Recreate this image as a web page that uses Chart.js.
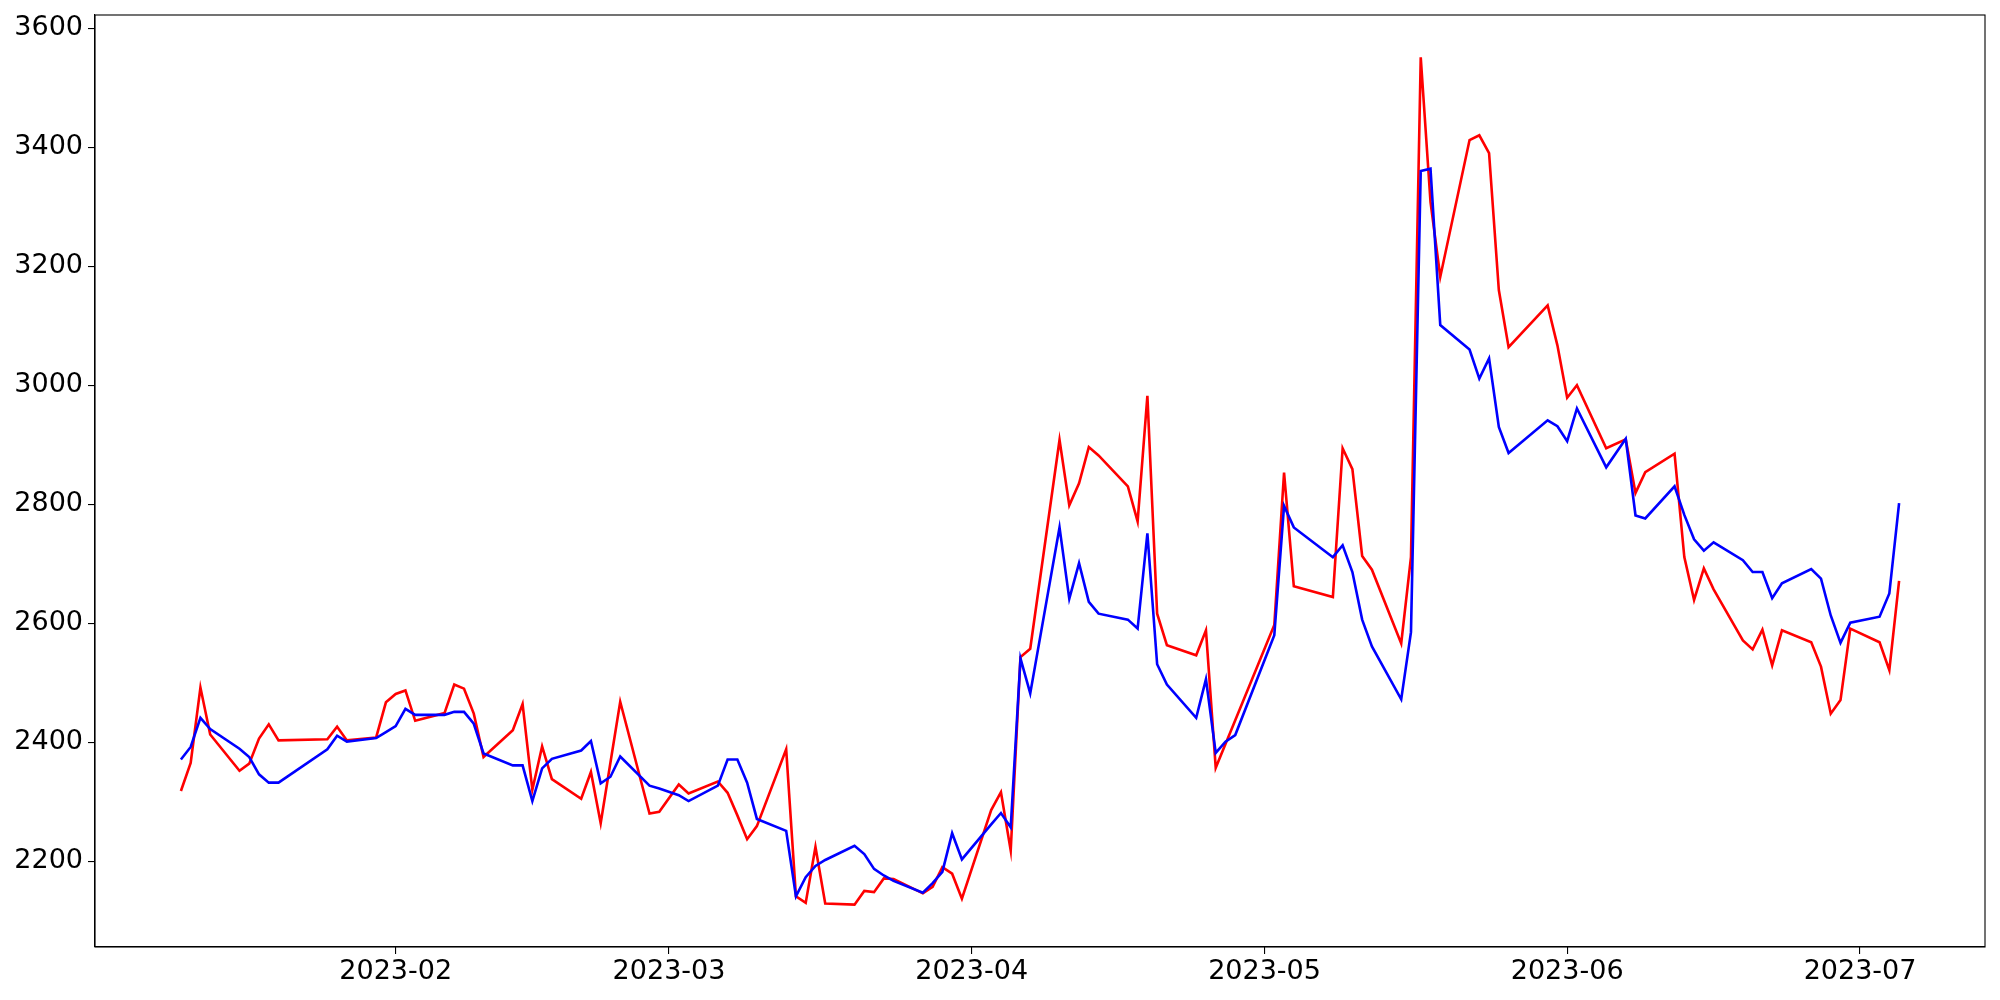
<!DOCTYPE html>
<html>
<head>
<meta charset="utf-8">
<script src="https://cdn.jsdelivr.net/npm/chart.js@4/dist/chart.umd.min.js"></script>
<style>
  body { margin: 0; background: #fff; }
  canvas { display: block; }
</style>
</head>
<body>
<canvas id="chart" width="2000" height="1000"></canvas>
<script>
// trading days
const dates = [
  '2023-01-10', '2023-01-11', '2023-01-12', '2023-01-13', '2023-01-16', '2023-01-17', '2023-01-18',
  '2023-01-19', '2023-01-20', '2023-01-25', '2023-01-26', '2023-01-27', '2023-01-30', '2023-01-31',
  '2023-02-01', '2023-02-02', '2023-02-03', '2023-02-06', '2023-02-07', '2023-02-08', '2023-02-09',
  '2023-02-10', '2023-02-13', '2023-02-14', '2023-02-15', '2023-02-16', '2023-02-17', '2023-02-20',
  '2023-02-21', '2023-02-22', '2023-02-23', '2023-02-24', '2023-02-27', '2023-02-28',
  '2023-03-02', '2023-03-03', '2023-03-06', '2023-03-07', '2023-03-08', '2023-03-09', '2023-03-10',
  '2023-03-13', '2023-03-14', '2023-03-15', '2023-03-16', '2023-03-17', '2023-03-20', '2023-03-21',
  '2023-03-22', '2023-03-23', '2023-03-24', '2023-03-27', '2023-03-28', '2023-03-29', '2023-03-30',
  '2023-03-31',
  '2023-04-03', '2023-04-04', '2023-04-05', '2023-04-06', '2023-04-07', '2023-04-10', '2023-04-11',
  '2023-04-12', '2023-04-13', '2023-04-14', '2023-04-17', '2023-04-18', '2023-04-19', '2023-04-20',
  '2023-04-21', '2023-04-24', '2023-04-25', '2023-04-26', '2023-04-27', '2023-04-28',
  '2023-05-02', '2023-05-03', '2023-05-04', '2023-05-08', '2023-05-09', '2023-05-10', '2023-05-11',
  '2023-05-12', '2023-05-15', '2023-05-16', '2023-05-17', '2023-05-18', '2023-05-19', '2023-05-22',
  '2023-05-23', '2023-05-24', '2023-05-25', '2023-05-26', '2023-05-30', '2023-05-31',
  '2023-06-01', '2023-06-02', '2023-06-05', '2023-06-07', '2023-06-08', '2023-06-09', '2023-06-12',
  '2023-06-13', '2023-06-14', '2023-06-15', '2023-06-16', '2023-06-19', '2023-06-20', '2023-06-21',
  '2023-06-22', '2023-06-23', '2023-06-26', '2023-06-27', '2023-06-28', '2023-06-29', '2023-06-30',
  '2023-07-03', '2023-07-04', '2023-07-05'
];

const redSeries = [
  2318, 2365, 2492, 2413, 2352, 2364, 2406, 2430, 2403, 2405, 2426, 2403, 2408, 2467,
  2481, 2487, 2436, 2449, 2497, 2490, 2448, 2375, 2420, 2464, 2320, 2393, 2338, 2305,
  2350, 2264, 2366, 2468, 2280, 2283,
  2329, 2314, 2334, 2315, 2277, 2237, 2259, 2388, 2141, 2130, 2224, 2129, 2127, 2150,
  2148, 2171, 2170, 2146, 2157, 2190, 2179, 2137,
  2286, 2316, 2218, 2543, 2557, 2908, 2798, 2835, 2896, 2882, 2830, 2771, 2982, 2616,
  2563, 2546, 2588, 2357, 2397, 2437,
  2597, 2853, 2662, 2644, 2894, 2859, 2713, 2690, 2566, 2711, 3551, 3308, 3182, 3412,
  3420, 3390, 3160, 3064, 3134, 3067,
  2979, 3000, 2894, 2909, 2819, 2854, 2885, 2711, 2639, 2692, 2657, 2571, 2556, 2589,
  2529, 2588, 2568, 2527, 2448, 2471, 2591,
  2568, 2521, 2671
];

const blueSeries = [
  2371, 2392, 2441, 2422, 2389, 2375, 2346, 2332, 2332, 2388, 2411, 2401, 2407, 2417,
  2427, 2456, 2446, 2446, 2451, 2451, 2431, 2381, 2361, 2361, 2301, 2356, 2372, 2386,
  2402, 2331, 2342, 2376, 2327, 2322,
  2311, 2301, 2327, 2371, 2371, 2332, 2271, 2251, 2141, 2173, 2192, 2202, 2226, 2212,
  2187, 2176, 2167, 2147, 2163, 2182, 2247, 2203,
  2262, 2281, 2257, 2541, 2482, 2761, 2641, 2701, 2636, 2616, 2606, 2591, 2751, 2531,
  2497, 2441, 2506, 2382, 2401, 2412,
  2580, 2797, 2761, 2711, 2731, 2686, 2606, 2561, 2472, 2585, 3360, 3364, 3101, 3060,
  3011, 3045, 2930, 2886, 2941, 2931,
  2906, 2961, 2862, 2910, 2781, 2776, 2830, 2782, 2741, 2722, 2736, 2706, 2686, 2686,
  2642, 2667, 2691, 2675, 2613, 2567, 2601,
  2611, 2650, 2802
];

const monthTicks = ['2023-02-01', '2023-03-01', '2023-04-01', '2023-05-01', '2023-06-01', '2023-07-01'];
const yTicks = [2200, 2400, 2600, 2800, 3000, 3200, 3400, 3600];

// dates -> day numbers, so a plain linear x scale can be used (no date adapter)
function toDay(s) {
  const p = s.split('-');
  return Date.UTC(+p[0], +p[1] - 1, +p[2]) / 86400000;
}
function dayLabel(d) {
  const dt = new Date(d * 86400000);
  return dt.getUTCFullYear() + '-' + String(dt.getUTCMonth() + 1).padStart(2, '0');
}

const days = dates.map(toDay);
const xSpan = days[days.length - 1] - days[0];
const allValues = redSeries.concat(blueSeries);
const yLo = Math.min(...allValues);
const yHi = Math.max(...allValues);
const ySpan = yHi - yLo;

// box round the plot area (all four sides)
const frame = {
  id: 'frame',
  afterDraw(chart) {
    const { ctx, chartArea: a } = chart;
    ctx.save();
    ctx.strokeStyle = '#000';
    ctx.lineWidth = 1.1;
    ctx.strokeRect(a.left, a.top, a.right - a.left, a.bottom - a.top);
    ctx.restore();
  }
};

const tickFont = { family: 'DejaVu Sans', size: 27 };

new Chart(document.getElementById('chart').getContext('2d'), {
  type: 'line',
  data: {
    datasets: [
      {
        label: 'blue',
        data: days.map((d, i) => ({ x: d, y: blueSeries[i] })),
        borderColor: '#0000ff',
        borderWidth: 2.6,
        pointRadius: 0,
        tension: 0,
        fill: false,
        order: 0
      },
      {
        label: 'red',
        data: days.map((d, i) => ({ x: d, y: redSeries[i] })),
        borderColor: '#ff0000',
        borderWidth: 2.6,
        pointRadius: 0,
        tension: 0,
        fill: false,
        order: 1
      }
    ]
  },
  options: {
    responsive: false,
    animation: false,
    devicePixelRatio: 1,
    layout: { padding: { top: 15, right: 15, left: 0, bottom: 0 } },
    plugins: {
      legend: { display: false },
      tooltip: { enabled: false }
    },
    scales: {
      x: {
        type: 'linear',
        min: days[0] - 0.05 * xSpan,
        max: days[days.length - 1] + 0.05 * xSpan,
        afterBuildTicks: scale => {
          scale.ticks = monthTicks.map(m => ({ value: toDay(m) }));
        },
        afterFit: scale => {
          scale.height = 53;
          scale.paddingLeft = 0;
          scale.paddingRight = 0;
        },
        ticks: {
          callback: v => dayLabel(v),
          color: '#000',
          font: tickFont,
          padding: 2,
          maxRotation: 0,
          autoSkip: false
        },
        grid: { display: true, drawOnChartArea: false, drawTicks: true, tickLength: 7, color: '#000', lineWidth: 1.1 },
        border: { display: true, color: '#000', width: 1.1 }
      },
      y: {
        type: 'linear',
        min: yLo - 0.05 * ySpan,
        max: yHi + 0.05 * ySpan,
        afterBuildTicks: scale => {
          scale.ticks = yTicks.map(v => ({ value: v }));
        },
        afterFit: scale => {
          scale.width = 95;
          scale.paddingTop = 0;
          scale.paddingBottom = 0;
        },
        ticks: {
          callback: v => String(v),
          color: '#000',
          font: tickFont,
          padding: 5
        },
        grid: { display: true, drawOnChartArea: false, drawTicks: true, tickLength: 7, color: '#000', lineWidth: 1.1 },
        border: { display: true, color: '#000', width: 1.1 }
      }
    }
  },
  plugins: [frame]
});
</script>
</body>
</html>
